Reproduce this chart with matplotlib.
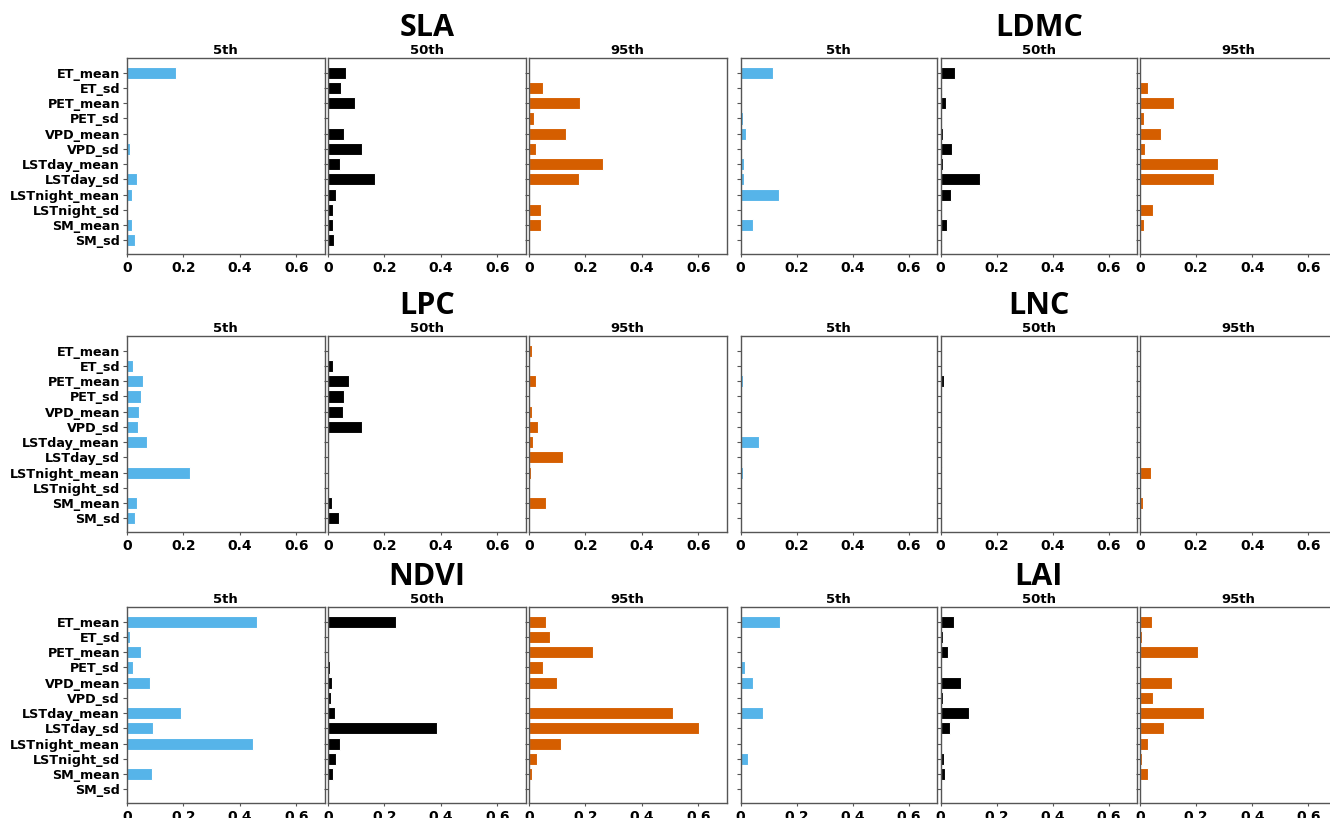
import matplotlib
matplotlib.use('Agg')
import matplotlib.pyplot as plt

variables = ['ET_mean', 'ET_sd', 'PET_mean', 'PET_sd', 'VPD_mean', 'VPD_sd',
             'LSTday_mean', 'LSTday_sd', 'LSTnight_mean', 'LSTnight_sd',
             'SM_mean', 'SM_sd']
quantiles = ['5th', '50th', '95th']
traits = ['SLA', 'LDMC', 'LPC', 'LNC', 'NDVI', 'LAI']
quantile_colors = ['#56B4E9', '#000000', '#D55E00']

# importance values, order follows `variables`
sla_5 = [0.174, 0.002, 0, 0, 0, 0.010, 0.003, 0.035, 0.017, 0, 0.018, 0.028]
sla_50 = [0.065, 0.047, 0.094, 0.002, 0.056, 0.120, 0.044, 0.165, 0.030, 0.017, 0.016, 0.022]
sla_95 = [0, 0.049, 0.181, 0.018, 0.132, 0.026, 0.262, 0.178, 0.005, 0.044, 0.042, 0]

ldmc_5 = [0.116, 0, 0.004, 0.009, 0.018, 0, 0.013, 0.013, 0.137, 0, 0.044, 0.007]
ldmc_50 = [0.052, 0.006, 0.020, 0, 0.009, 0.041, 0.009, 0.140, 0.037, 0.006, 0.024, 0.007]
ldmc_95 = [0, 0.030, 0.122, 0.013, 0.076, 0.018, 0.279, 0.262, 0, 0.048, 0.013, 0]

lpc_5 = [0, 0.023, 0.056, 0.048, 0.041, 0.040, 0.070, 0, 0.222, 0, 0.037, 0.029]
lpc_50 = [0, 0.019, 0.074, 0.056, 0.054, 0.121, 0, 0, 0, 0, 0.013, 0.040]
lpc_95 = [0.009, 0.001, 0.026, 0, 0.009, 0.032, 0.015, 0.119, 0.007, 0, 0.060, 0]

lnc_5 = [0, 0, 0.008, 0, 0.007, 0, 0.065, 0, 0.008, 0, 0, 0]
lnc_50 = [0, 0, 0.011, 0, 0, 0.005, 0, 0, 0.005, 0, 0, 0]
lnc_95 = [0, 0, 0.005, 0.002, 0.005, 0.005, 0.002, 0, 0.040, 0, 0.010, 0.004]

ndvi_5 = [0.460, 0.010, 0.050, 0.020, 0.083, 0.002, 0.190, 0.091, 0.446, 0.004, 0.089, 0.002]
ndvi_50 = [0.240, 0, 0, 0.007, 0.013, 0.012, 0.024, 0.387, 0.043, 0.029, 0.016, 0]
ndvi_95 = [0.059, 0.075, 0.228, 0.051, 0.101, 0, 0.509, 0.603, 0.113, 0.027, 0.009, 0]

lai_5 = [0.142, 0, 0, 0.015, 0.046, 0.007, 0.081, 0.005, 0.007, 0.028, 0, 0]
lai_50 = [0.048, 0.008, 0.026, 0, 0.072, 0.008, 0.103, 0.034, 0, 0.012, 0.017, 0]
lai_95 = [0.041, 0.006, 0.208, 0, 0.113, 0.048, 0.228, 0.087, 0.029, 0.008, 0.030, 0]

data = {
    'SLA': [sla_5, sla_50, sla_95],
    'LDMC': [ldmc_5, ldmc_50, ldmc_95],
    'LPC': [lpc_5, lpc_50, lpc_95],
    'LNC': [lnc_5, lnc_50, lnc_95],
    'NDVI': [ndvi_5, ndvi_50, ndvi_95],
    'LAI': [lai_5, lai_50, lai_95],
}

W, H = 1330, 818
fig = plt.figure(figsize=(W / 100, H / 100), dpi=100)
fig.patch.set_facecolor('white')

group_lefts = [[127, 328, 529], [740.5, 940.5, 1140]]
group_widths = [197.5, 196.5]
row_tops = [58, 336, 607]
row_h = 196.3
spine_col = '#555555'

for ti, trait in enumerate(traits):
    row = ti // 2
    grp = ti % 2
    top = row_tops[row]
    for qi, q in enumerate(quantiles):
        left = group_lefts[grp][qi]
        w = group_widths[grp]
        ax = fig.add_axes([left / W, (H - top - row_h) / H, w / W, row_h / H])
        vals = data[trait][qi]
        ax.barh(range(len(variables)), vals, height=0.8,
                color=quantile_colors[qi], edgecolor='white', linewidth=0.8)
        ax.set_xlim(0, 0.7)
        ax.set_ylim(11.92, -0.97)
        ax.set_yticks(range(len(variables)))
        if grp == 0 and qi == 0:
            ax.set_yticklabels(variables, fontsize=9.2, fontweight='bold')
        else:
            ax.set_yticklabels([])
        ax.set_xticks([0, 0.2, 0.4, 0.6])
        ax.set_xticklabels(['0', '0.2', '0.4', '0.6'], fontsize=10, fontweight='bold')
        ax.tick_params(axis='both', colors=spine_col, labelcolor='black',
                       length=3, width=0.8, pad=2)
        ax.tick_params(axis='x', length=2.5, pad=2.5)
        for s in ax.spines.values():
            s.set_color(spine_col)
            s.set_linewidth(1.0)
        ax.set_title(q, fontsize=9.5, fontweight='bold', pad=3)
        if qi == 1:
            cx = (left + w / 2) / W
            fig.text(cx, (H - (top - 30)) / H, trait, ha='center', va='center',
                     fontsize=22, fontweight='bold', family=['Open Sans', 'DejaVu Sans'])

fig.savefig('out.png', dpi=100, facecolor='white')
